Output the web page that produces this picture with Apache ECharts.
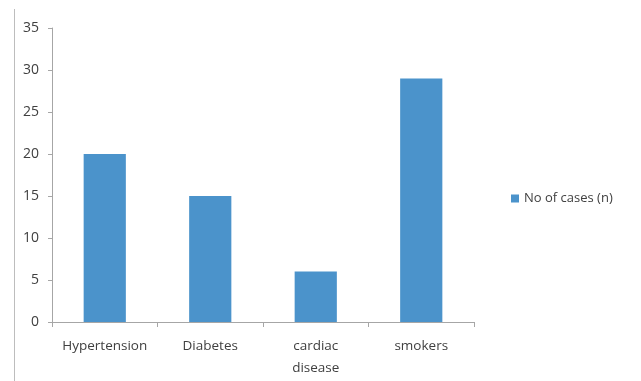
<!DOCTYPE html>
<html>
<head>
<meta charset="utf-8">
<script src="https://cdn.jsdelivr.net/npm/echarts@6/dist/echarts.min.js"></script>
<style>
  html, body { margin: 0; padding: 0; background: #fff; }
  #chart { width: 641px; height: 381px; }
</style>
</head>
<body>
<div id="chart"></div>
<script>
// categories and values
const categories = ['Hypertension', 'Diabetes', 'cardiac\ndisease', 'smokers'];
const cases = [20, 15, 6, 29];
const seriesName = 'No of cases (n)';

let myChart = echarts.init(document.getElementById('chart'));

const axisGray = '#a6a6a6';
const textGray = '#404040';
const font = '"Open Sans", sans-serif';

let option = {
    animation: false,
    textStyle: { fontFamily: font },
    grid: { left: 52, top: 28, right: 167, bottom: 59 },
    legend: {
        data: [seriesName],
        left: 506,
        top: 187,
        itemWidth: 8,
        itemHeight: 8,
        itemGap: 6,
        icon: 'rect',
        textStyle: { color: textGray, fontSize: 13, fontFamily: font }
    },
    xAxis: {
        type: 'category',
        data: categories,
        axisLine: { lineStyle: { color: axisGray, width: 1 } },
        axisTick: { show: true, interval: 0, length: 5, lineStyle: { color: axisGray } },
        axisLabel: { interval: 0, hideOverlap: false, color: textGray, fontSize: 13.5, margin: 13, lineHeight: 22, fontFamily: font }
    },
    yAxis: {
        type: 'value',
        min: 0,
        max: 35,
        interval: 5,
        axisLine: { show: true, lineStyle: { color: axisGray, width: 1 } },
        axisTick: { show: true, length: 4, lineStyle: { color: axisGray } },
        axisLabel: { color: textGray, fontSize: 14, margin: 13, fontFamily: font },
        splitLine: { show: false }
    },
    series: [{
        name: seriesName,
        type: 'bar',
        data: cases,
        barWidth: '40%',
        itemStyle: { color: '#4b93cb' }
    }],
    // thin frame line on the far left edge of the original image
    graphic: [{
        type: 'line',
        shape: { x1: 14.5, y1: 9, x2: 14.5, y2: 381 },
        style: { stroke: '#bdbdbd', lineWidth: 1 }
    }]
};

myChart.setOption(option);
</script>
</body>
</html>
